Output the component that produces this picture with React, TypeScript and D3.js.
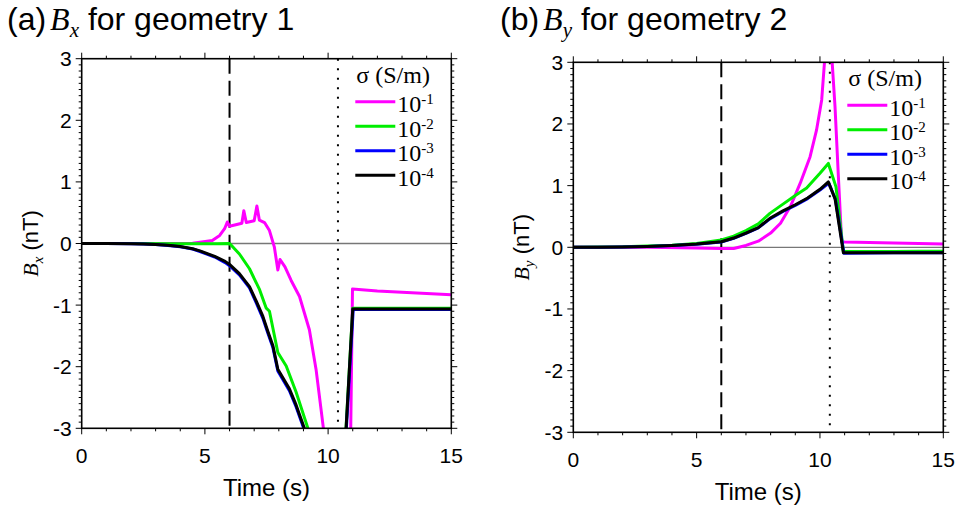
import React from 'react';
import * as d3 from 'd3';

const W = 959, H = 506;
const SANS = "'Liberation Sans', Arial, sans-serif";
const SERIF = "'Liberation Serif', 'Times New Roman', serif";

const tDomain = [0, 15];
const vDomain = [-3, 3];
const tDashed = 6;
const tDotted = 10.4;
const sigmaExp = ['-1', '-2', '-3', '-4'];
const sigmaColors = ['#ff00ff', '#00ee00', '#0000ff', '#000000'];

// (a) Bx, geometry 1
const bx1T = [0, 3, 4, 4.5, 4.8, 5.3, 5.6, 5.8, 5.91, 6.0, 6.5, 6.58, 6.68, 7.0, 7.11, 7.21, 7.42, 7.62, 7.82, 7.96, 8.05, 8.25, 8.5, 8.84, 9.24, 9.51, 9.71, 10.4, 10.9, 10.99, 12, 13, 14, 15];
const bx1V = [0, 0, 0, 0.003, 0.02, 0.05, 0.13, 0.24, 0.35, 0.28, 0.33, 0.53, 0.34, 0.37, 0.61, 0.38, 0.34, 0.21, -0.06, -0.43, -0.26, -0.38, -0.6, -0.86, -1.4, -2.04, -2.68, -4.9, -3.6, -0.74, -0.77, -0.79, -0.81, -0.83];
const bx2T = [0, 2, 4, 5, 5.5, 6.0, 6.07, 6.4, 6.81, 7.22, 7.49, 7.62, 7.96, 8.3, 8.7, 10.5, 11.0, 12, 13, 14, 15];
const bx2V = [0, 0, -0.003, -0.005, -0.004, 0, -0.03, -0.17, -0.41, -0.75, -1.05, -1.1, -1.77, -1.99, -2.41, -4.62, -1.05, -1.05, -1.05, -1.05, -1.05];
const bx3T = [0, 1, 2, 2.5, 3, 3.5, 4, 4.5, 4.8, 5.4, 5.82, 6.0, 6.4, 6.81, 7.08, 7.35, 7.55, 7.76, 7.96, 8.43, 8.7, 10.5, 11.02, 12, 13, 14, 15];
const bx3V = [0, 0, -0.004, -0.01, -0.018, -0.033, -0.054, -0.09, -0.13, -0.22, -0.31, -0.36, -0.51, -0.72, -0.96, -1.21, -1.45, -1.69, -2.07, -2.39, -2.65, -4.68, -1.07, -1.07, -1.07, -1.07, -1.07];
const bx4T = [0, 1, 2, 2.5, 3, 3.5, 4, 4.5, 4.8, 5.4, 5.82, 6.0, 6.4, 6.81, 7.08, 7.35, 7.55, 7.76, 7.96, 8.43, 8.7, 10.5, 11.0, 12, 13, 14, 15];
const bx4V = [0, 0, -0.003, -0.008, -0.016, -0.03, -0.05, -0.085, -0.12, -0.21, -0.29, -0.34, -0.49, -0.70, -0.93, -1.18, -1.42, -1.66, -2.04, -2.36, -2.62, -4.65, -1.065, -1.065, -1.065, -1.065, -1.065];

// (b) By, geometry 2
const by1T = [0, 3, 5, 6, 6.5, 7, 7.5, 8, 8.4, 8.8, 9.2, 9.6, 9.86, 10.07, 10.35, 10.61, 10.74, 10.88, 11, 12, 13, 14, 15];
const by1V = [0, 0, -0.01, -0.02, -0.02, 0.03, 0.1, 0.23, 0.39, 0.66, 1.04, 1.47, 1.9, 2.39, 3.9, 2.28, 1.2, 0.09, 0.086, 0.078, 0.07, 0.062, 0.053];
const by2T = [0, 2, 4, 5, 6, 6.5, 7, 7.5, 7.97, 8.5, 9, 9.46, 10, 10.34, 10.65, 10.95, 12, 13, 14, 15];
const by2V = [0, 0.008, 0.035, 0.06, 0.12, 0.18, 0.27, 0.38, 0.55, 0.7, 0.84, 0.96, 1.2, 1.36, 0.98, -0.07, -0.068, -0.067, -0.066, -0.065];
const by3T = [0, 1, 2, 3, 4, 5, 6, 6.5, 7, 7.5, 7.97, 8.5, 9, 9.5, 10, 10.36, 10.63, 10.97, 12, 13, 14, 15];
const by3V = [0, 0.002, 0.006, 0.013, 0.028, 0.05, 0.087, 0.145, 0.225, 0.315, 0.46, 0.58, 0.68, 0.79, 0.93, 1.04, 0.77, -0.095, -0.092, -0.09, -0.09, -0.09];
const by4T = [0, 1, 2, 3, 4, 5, 6, 6.5, 7, 7.5, 7.97, 8.5, 9, 9.5, 10, 10.34, 10.61, 10.95, 12, 13, 14, 15];
const by4V = [0, 0.002, 0.006, 0.014, 0.03, 0.052, 0.09, 0.15, 0.23, 0.32, 0.47, 0.59, 0.69, 0.8, 0.94, 1.06, 0.79, -0.09, -0.088, -0.087, -0.087, -0.087];

const zip = (t: number[], v: number[]) => t.map((d, i) => [d, v[i]] as [number, number]);

const seriesA = [zip(bx1T, bx1V), zip(bx2T, bx2V), zip(bx3T, bx3V), zip(bx4T, bx4V)];
const seriesB = [zip(by1T, by1V), zip(by2T, by2V), zip(by3T, by3V), zip(by4T, by4V)];

const fmt = (v: number) => (v < 0 ? '-' + Math.abs(v) : String(v));

function Panel({ id, left, top, size, data, tag, comp, geom, titleX }: any) {
  const xs = d3.scaleLinear().domain(tDomain).range([left, left + size]);
  const ys = d3.scaleLinear().domain(vDomain).range([top + size, top]);
  const line = d3.line<[number, number]>().x(d => xs(d[0])).y(d => ys(d[1]));
  const right = left + size, bottom = top + size;

  const xMajor = xs.ticks(3);
  const xMinor = xs.ticks(15);
  const yMajor = ys.ticks(6);
  const yMinor = ys.ticks(60);

  // frame ticks point outwards on all four sides
  let tickPath = '';
  xMinor.forEach(t => {
    const L = xMajor.includes(t) ? 6 : 3;
    tickPath += `M${xs(t)},${bottom}v${L}M${xs(t)},${top}v${-L}`;
  });
  yMinor.forEach(v => {
    const L = yMajor.some(m => Math.abs(m - v) < 1e-9) ? 6 : 3;
    tickPath += `M${left},${ys(v)}h${-L}M${right},${ys(v)}h${L}`;
  });

  const legX = right - 96;
  const legY = [43, 67.5, 92, 116.5].map(d => top + d);

  return (
    <g>
      <defs>
        <clipPath id={id}>
          <rect x={left} y={top} width={size} height={size} />
        </clipPath>
      </defs>
      <text x={titleX} y={30} fontFamily={SANS} fontSize={32}>
        <tspan>{tag}</tspan>
        <tspan dx={4} fontFamily={SERIF} fontStyle="italic">B</tspan>
        <tspan dy={7} fontFamily={SERIF} fontStyle="italic" fontSize={21}>{comp}</tspan>
        <tspan dy={-7}>{' for geometry ' + geom}</tspan>
      </text>

      <line x1={left} x2={right} y1={ys(0)} y2={ys(0)} stroke="#777" strokeWidth={1.3} />
      <line x1={xs(tDashed)} x2={xs(tDashed)} y1={top} y2={bottom} stroke="#000" strokeWidth={2} strokeDasharray="15 7" />
      <line x1={xs(tDotted)} x2={xs(tDotted)} y1={top} y2={bottom} stroke="#000" strokeWidth={2} strokeDasharray="2 7.5" />

      <g clipPath={`url(#${id})`}>
        {data.map((s: [number, number][], i: number) => (
          <path key={i} d={line(s) || ''} fill="none" stroke={sigmaColors[i]} strokeWidth={3} strokeLinejoin="round" />
        ))}
      </g>

      <rect x={left} y={top} width={size} height={size} fill="none" stroke="#000" strokeWidth={1.6} />
      <path d={tickPath} stroke="#000" strokeWidth={1} fill="none" />

      {xMajor.map(t => (
        <text key={t} x={xs(t)} y={bottom + 35} textAnchor="middle" fontFamily={SANS} fontSize={21}>{t}</text>
      ))}
      {yMajor.map(v => (
        <text key={v} x={left - 10} y={ys(v)} textAnchor="end" dominantBaseline="central" fontFamily={SANS} fontSize={21}>{fmt(v)}</text>
      ))}
      <text x={(left + right) / 2} y={bottom + 68} textAnchor="middle" fontFamily={SANS} fontSize={24}>Time (s)</text>
      <text transform={`translate(${left - 44},${(top + bottom) / 2}) rotate(-90)`} textAnchor="middle" fontFamily={SANS} fontSize={22}>
        <tspan fontFamily={SERIF} fontStyle="italic">B</tspan>
        <tspan dy={5} fontFamily={SERIF} fontStyle="italic" fontSize={15}>{comp}</tspan>
        <tspan dy={-5}> (nT)</tspan>
      </text>

      <text x={legX + 1} y={top + 24} fontFamily={SERIF} fontSize={24}>σ (S/m)</text>
      {sigmaExp.map((e, i) => (
        <g key={e}>
          <line x1={legX} x2={legX + 40} y1={legY[i]} y2={legY[i]} stroke={sigmaColors[i]} strokeWidth={3} />
          <text x={legX + 42} y={legY[i] + 10.5} fontFamily={SERIF} fontSize={24}>
            10<tspan dy={-8} fontSize={15}>{e}</tspan>
          </text>
        </g>
      ))}
    </g>
  );
}

export default function App() {
  return (
    <svg width={W} height={H} style={{ position: 'absolute', left: 0, top: 0, background: '#fff' }}>
      <Panel id="clipA" left={81.7} top={58.7} size={369.6} data={seriesA} tag="(a)" comp="x" geom="1" titleX={7} />
      <Panel id="clipB" left={573.3} top={62.3} size={370} data={seriesB} tag="(b)" comp="y" geom="2" titleX={500} />
    </svg>
  );
}
